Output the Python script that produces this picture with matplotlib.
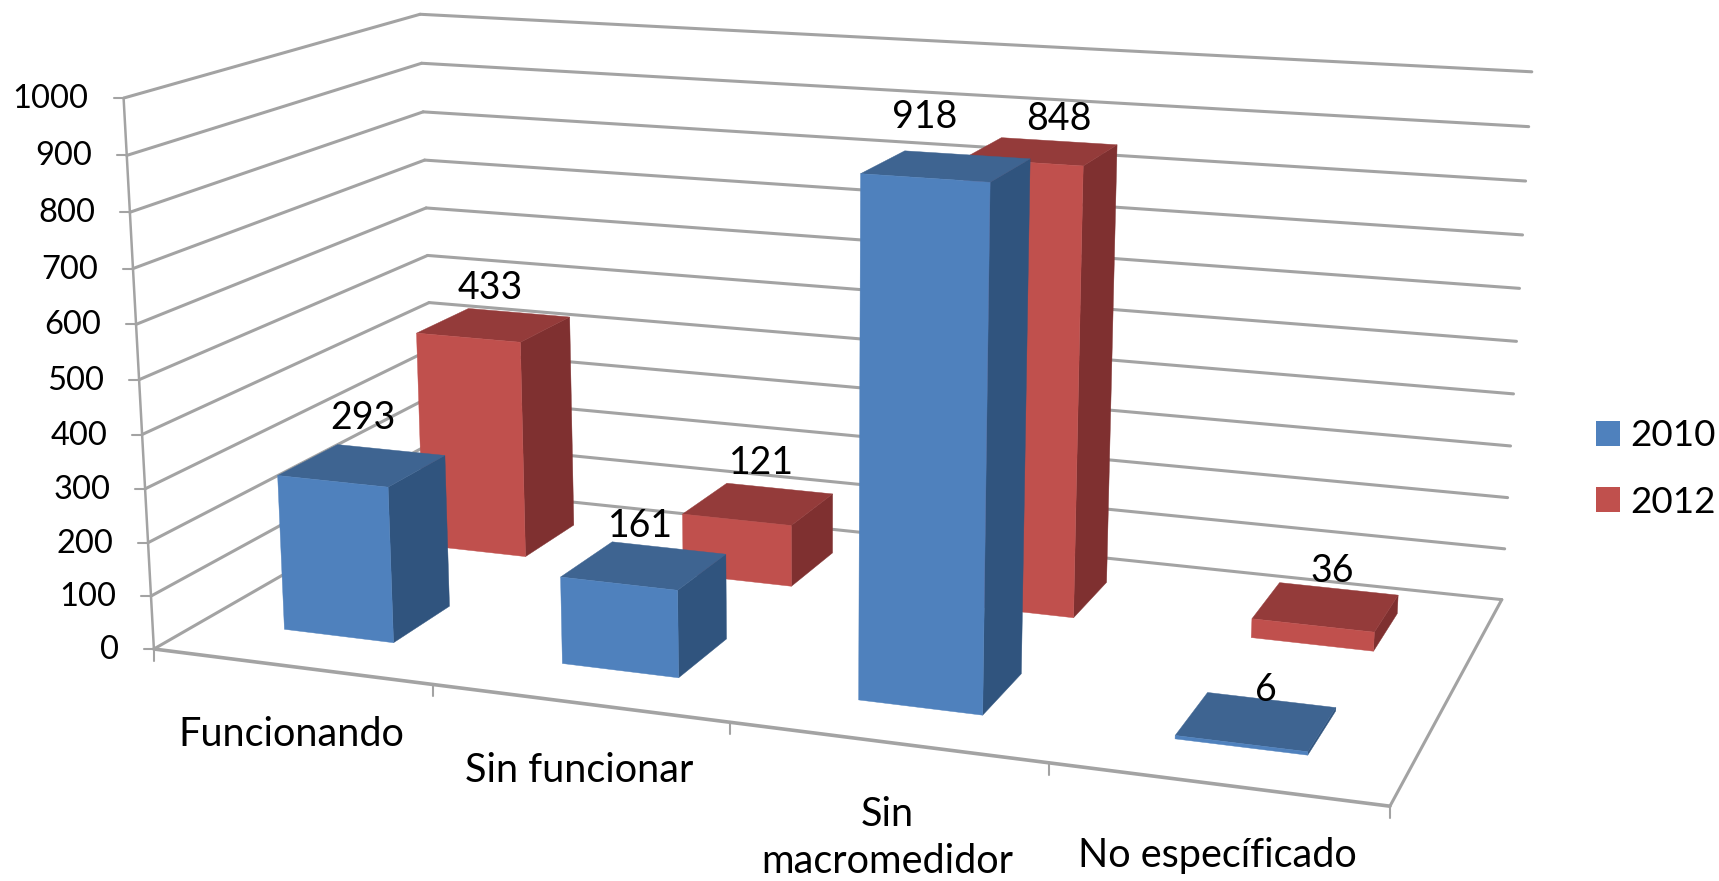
import numpy as np
import matplotlib
matplotlib.use("Agg")
import matplotlib.pyplot as plt
from matplotlib.patches import Polygon, Patch

categories = ["Funcionando", "Sin funcionar", "Sin\nmacromedidor", "No específicado"]
series_names = ["2010", "2012"]
values_2010 = [293, 161, 918, 6]
values_2012 = [433, 121, 848, 36]
value_ticks = list(range(0, 1001, 100))

W, H = 1719, 881
BLUE = ("#4F81BD", "#3E6491", "#30547E")
RED = ("#C0504D", "#943B3A", "#7F3030")
GRID = "#A3A3A3"
plt.rcParams["font.family"] = ["Lato", "DejaVu Sans"]
FS_TICK, FS_DATA, FS_CAT, FS_LEG = 23.5, 27, 28.5, 26.5

# camera: chart box corners (category frac, depth frac, value frac) seen at these pixels
box = np.array([(0,0,0),(1,0,0),(1,1,0),(0,0,1),(0,1,1),(1,1,1),(0,1,0)], float)
seen = np.array([(154.6,646.8),(1390,808),(1502,597.5),(122.8,98.7),(421,13.2),(1531.5,72.4),(434,490)])
A, b = [], []
for (X,Y,Z),(u,v) in zip(box, seen):
    A.append([X,Y,Z,1,0,0,0,0,-u*X,-u*Y,-u*Z]); b.append(u)
    A.append([0,0,0,0,X,Y,Z,1,-v*X,-v*Y,-v*Z]); b.append(v)
P = np.append(np.linalg.lstsq(np.array(A), np.array(b), rcond=None)[0], 1).reshape(3,4)

def proj(x, y, val):
    """x: category units 0..4, y: depth 0..1, val: axis value."""
    q = P @ np.array([x/4, y, val/1000, 1.0])
    return q[:2]/q[2]

fig = plt.figure(figsize=(W/100, H/100), dpi=100)
ax = fig.add_axes([0, 0, 1, 1])
ax.set_xlim(0, W); ax.set_ylim(H, 0); ax.axis("off")

def seg(p, q, lw=2.2, z=1):
    ax.plot(*zip(p, q), color=GRID, lw=lw, solid_capstyle="round", zorder=z)

for v in value_ticks:
    seg(proj(0,0,v), proj(0,1,v))
    seg(proj(0,1,v), proj(4,1,v))
    a = proj(0,0,v)
    seg(a, a + np.array([-10,0]), lw=1.5)
    ax.text(a[0]-35, a[1]+1, str(v), ha="right", va="center", fontsize=FS_TICK, color="black", zorder=6)
seg(proj(0,0,0), proj(0,0,1000), lw=1.8)
seg(proj(0,0,0), proj(4,0,0), lw=2.6)
seg(proj(4,0,0), proj(4,1,0))
for i in range(5):
    a = proj(i,0,0)
    seg(a, a + np.array([0,12]), lw=1.5)

BW = 0.2     # half bar width in category units
SHIFT = -0.003
DEPTH = {"2010": (0.16, 0.362), "2012": (0.66, 0.865)}

def bar(i, name, v, cols, z):
    x0, x1 = i + 0.5 + SHIFT - BW, i + 0.5 + SHIFT + BW
    y0, y1 = DEPTH[name]
    side = [proj(x1,y0,0), proj(x1,y1,0), proj(x1,y1,v), proj(x1,y0,v)]
    top = [proj(x0,y0,v), proj(x1,y0,v), proj(x1,y1,v), proj(x0,y1,v)]
    front = [proj(x0,y0,0), proj(x1,y0,0), proj(x1,y0,v), proj(x0,y0,v)]
    for pts, c in ((side, cols[2]), (top, cols[1]), (front, cols[0])):
        ax.add_patch(Polygon(pts, closed=True, facecolor=c, edgecolor=c, lw=0.3, zorder=z))
    return proj(i + 0.5 + SHIFT, (y0+y1)/2, v)

label_offset = {"2010": [(1,-43),(-3,-36),(-20,-45),(9,-29)], "2012": [(-3,-34),(3,-37),(16,-30),(6,-33)]}
for name, vals, cols, z in (("2012", values_2012, RED, 3), ("2010", values_2010, BLUE, 4)):
    for i, v in enumerate(vals):
        c = bar(i, name, v, cols, z)
        off = label_offset[name][i]
        ax.text(c[0]+off[0]*1.096, c[1]+off[1]*1.096, str(v), ha="center", va="center", fontsize=FS_DATA, color="black", zorder=7)

cat_pos = [(291,734), (579,770), (887,838), (1217,855)]
for name, (x, y) in zip(categories, cat_pos):
    ax.text(x, y, name, ha="center", va="center", fontsize=FS_CAT, color="black", linespacing=1.32, zorder=6)

handles = [Patch(facecolor=BLUE[0], label=series_names[0]), Patch(facecolor=RED[0], label=series_names[1])]
ax.legend(handles=handles, loc="center left", bbox_to_anchor=(1596/W, 1-469/H), frameon=False,
          fontsize=FS_LEG, handlelength=0.65, handleheight=0.65, handletextpad=0.28, labelspacing=0.9, borderpad=0, borderaxespad=0)

fig.savefig("out.png", dpi=100, facecolor="white")
